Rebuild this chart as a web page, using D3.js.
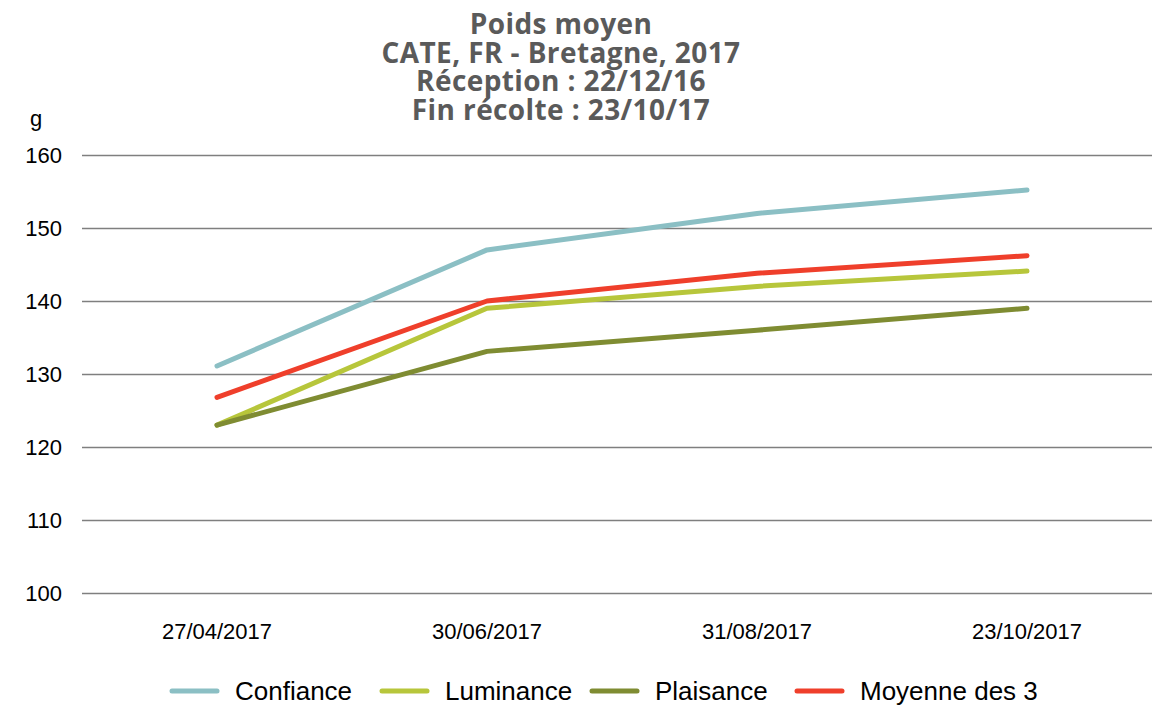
<!DOCTYPE html>
<html>
<head>
<meta charset="utf-8">
<script src="https://cdn.jsdelivr.net/npm/d3@7"></script>
<style>
  body { margin: 0; background: #fff; }
  svg { display: block; }
</style>
</head>
<body>
<div id="chart"></div>
<script>
// dates on the x axis
var dates = ["27/04/2017", "30/06/2017", "31/08/2017", "23/10/2017"];

// series values (g)
var confiance = [131.1, 147, 152, 155.2];
var luminance = [123, 139, 142, 144.1];
var plaisance = [123, 133.1, 136, 139];
var moyenne = [126.8, 140, 143.8, 146.2];

var seriesNames = ["Confiance", "Luminance", "Plaisance", "Moyenne des 3"];
var seriesColors = ["#8bbfc4", "#b7c63b", "#7f8c32", "#ef3f2b"];

var yTicks = [100, 110, 120, 130, 140, 150, 160];

var titleLines = ["Poids moyen", "CATE, FR - Bretagne, 2017", "Réception : 22/12/16", "Fin récolte : 23/10/17"];

var width = 1152, height = 706;
var svg = d3.select("#chart").append("svg")
  .attr("width", width)
  .attr("height", height);

var x = d3.scaleBand().domain(dates).range([82, 1162]);
var y = d3.scaleLinear().domain([100, 160]).range([593, 155]);

// title, one text with a tspan per line
var title = svg.append("text")
  .attr("x", 561)
  .attr("y", 34)
  .style("text-anchor", "middle")
  .style("font-family", "'Open Sans', sans-serif")
  .style("font-weight", "bold")
  .style("font-size", "28px")
  .style("letter-spacing", "0.4px")
  .style("fill", "#5a5a5a");
title.selectAll("tspan")
  .data(titleLines)
  .enter().append("tspan")
    .attr("x", 561)
    .attr("y", function (d, i) { return 34 + i * 28.7; })
    .text(function (d) { return d; });

// unit
svg.append("text")
  .attr("x", 30)
  .attr("y", 126)
  .style("font-family", "'Liberation Sans', Arial, sans-serif")
  .style("font-size", "22px")
  .text("g");

// y axis with gridlines
var yAxis = svg.append("g")
  .attr("transform", "translate(82,0)")
  .call(d3.axisLeft(y).tickValues(yTicks).tickSize(-1080).tickPadding(20));
yAxis.select(".domain").remove();
yAxis.selectAll(".tick line").attr("stroke", "#7f7f7f").attr("stroke-width", 1.3);
yAxis.selectAll(".tick text")
  .style("font-family", "'Liberation Sans', Arial, sans-serif")
  .style("font-size", "22px")
  .attr("fill", "#000");

// x axis labels
var xAxis = svg.append("g")
  .attr("transform", "translate(0,593)")
  .call(d3.axisBottom(x).tickSize(0).tickPadding(30));
xAxis.select(".domain").remove();
xAxis.selectAll(".tick text")
  .style("font-family", "'Liberation Sans', Arial, sans-serif")
  .style("font-size", "22px")
  .attr("fill", "#000");

// lines
var allSeries = [confiance, luminance, plaisance, moyenne];
var line = d3.line()
  .x(function (d, i) { return x(dates[i]) + x.bandwidth() / 2; })
  .y(function (d) { return y(d); });

svg.append("g").selectAll("path")
  .data(allSeries)
  .enter().append("path")
    .attr("d", function (d) { return line(d); })
    .attr("fill", "none")
    .attr("stroke", function (d, i) { return seriesColors[i]; })
    .attr("stroke-width", 5)
    .attr("stroke-linecap", "round")
    .attr("stroke-linejoin", "round");

// legend
var legendX = [172, 382, 592, 797];
var legend = svg.append("g").selectAll("g")
  .data(seriesNames)
  .enter().append("g")
    .attr("transform", function (d, i) { return "translate(" + legendX[i] + ",691)"; });
legend.append("line")
  .attr("x1", 0).attr("x2", 45)
  .attr("stroke", function (d, i) { return seriesColors[i]; })
  .attr("stroke-width", 5)
  .attr("stroke-linecap", "round");
legend.append("text")
  .attr("x", 63)
  .attr("y", 9)
  .style("font-family", "'Liberation Sans', Arial, sans-serif")
  .style("font-size", "26px")
  .text(function (d) { return d; });
</script>
</body>
</html>
